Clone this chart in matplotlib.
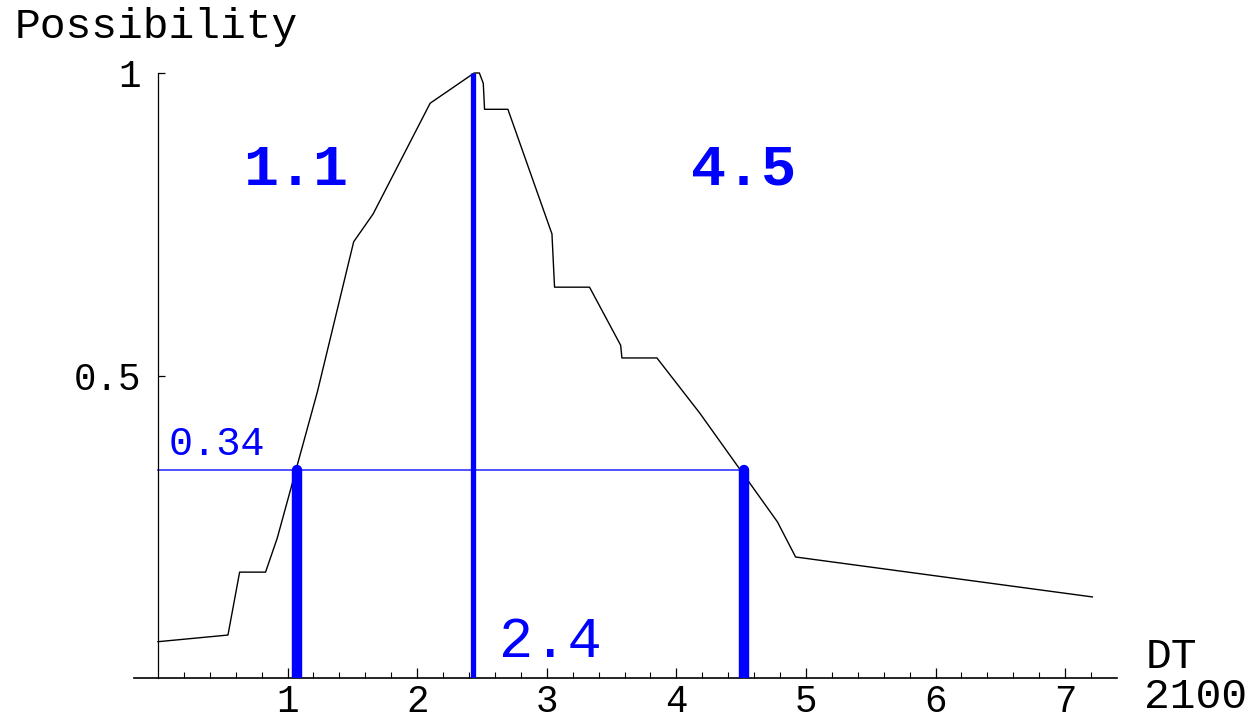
import matplotlib
matplotlib.use("Agg")
import matplotlib.pyplot as plt
from matplotlib.ticker import FixedLocator

# Data
dt = [0.0, 0.54, 0.63, 0.83, 0.92, 1.23, 1.51, 1.66, 2.10, 2.44, 2.48, 2.51, 2.52,
      2.70, 3.04, 3.06, 3.33, 3.57, 3.58, 3.85, 4.18, 4.78, 4.92, 7.21]
poss = [0.060, 0.071, 0.175, 0.175, 0.231, 0.473, 0.721, 0.767, 0.950, 1.0, 1.0, 0.983, 0.940,
        0.940, 0.734, 0.646, 0.646, 0.550, 0.529, 0.529, 0.438, 0.258, 0.200, 0.134]
level = 0.344
left_x = 1.07
right_x = 4.52
peak_x = 2.43
label_left = "1.1"
label_right = "4.5"
label_peak = "2.4"
label_level = "0.34"
xticks_major = [1, 2, 3, 4, 5, 6, 7]
yticks_major = [0.5, 1]
ytick_labels = ["0.5", "1"]

mono = "Liberation Mono"
W, H = 1251, 721
fig = plt.figure(figsize=(W / 100, H / 100), dpi=100)
left_px, right_px = 134, 1117
bot_px, top_px = 678, 73
ax = fig.add_axes([left_px / W, 1 - bot_px / H, (right_px - left_px) / W, (bot_px - top_px) / H])
ax.set_xlim(-0.185, 7.4)
ax.set_ylim(0, 1)

ax.plot(dt, poss, color="black", lw=1.0, clip_on=False, zorder=3)

blue = "#0000ff"
ax.plot([0, right_x], [level, level], color=blue, lw=1.2, alpha=0.8, zorder=2)
ax.plot([peak_x, peak_x], [0, 1], color=blue, lw=3.8, solid_capstyle="butt", zorder=4)
for xv in (left_x, right_x):
    ax.plot([xv, xv], [-0.05, level], color=blue, lw=7.5, solid_capstyle="round", zorder=4)

# spines
for s in ("top", "right"):
    ax.spines[s].set_visible(False)
ax.spines["left"].set_position(("data", 0))
ax.spines["left"].set_bounds(0, 1)
ax.spines["left"].set_linewidth(0.9)
ax.spines["bottom"].set_linewidth(1.2)

ax.xaxis.set_major_locator(FixedLocator(xticks_major))
ax.xaxis.set_minor_locator(FixedLocator([round(0.2 * i, 2) for i in range(1, 37) if i % 5 != 0]))
ax.set_xticklabels([str(v) for v in xticks_major])
ax.yaxis.set_major_locator(FixedLocator(yticks_major))
ax.set_yticklabels(ytick_labels)
ax.tick_params(axis="x", which="major", direction="in", length=7, width=0.9, pad=4,
               labelsize=27)
ax.tick_params(axis="x", which="minor", direction="in", length=4, width=0.8)
ax.tick_params(axis="y", which="major", direction="in", length=5, width=0.9, pad=12,
               labelsize=27)
for lab in ax.get_xticklabels() + ax.get_yticklabels():
    lab.set_fontfamily(mono)

def px(x, y):
    return (x / W, 1 - y / H)

fig.text(*px(15, 27), "Possibility", fontfamily=mono, fontsize=31, ha="left", va="center")
fig.text(*px(1146, 657), "DT", fontfamily=mono, fontsize=31, ha="left", va="center")
fig.text(*px(1144, 697), "2100", fontfamily=mono, fontsize=31, ha="left", va="center")

ax.text(1.06, 0.84, label_left, color=blue, fontfamily=mono, fontweight="bold",
        fontsize=42, ha="center", va="center")
ax.text(4.52, 0.84, label_right, color=blue, fontfamily=mono, fontweight="bold",
        fontsize=42, ha="center", va="center")
ax.text(3.03, 0.06, label_peak, color=blue, fontfamily=mono, fontsize=41,
        ha="center", va="center")
ax.text(0.08, level + 0.012, label_level, color=blue, fontfamily=mono, fontsize=29,
        ha="left", va="bottom")

fig.savefig("out.png", dpi=100)
